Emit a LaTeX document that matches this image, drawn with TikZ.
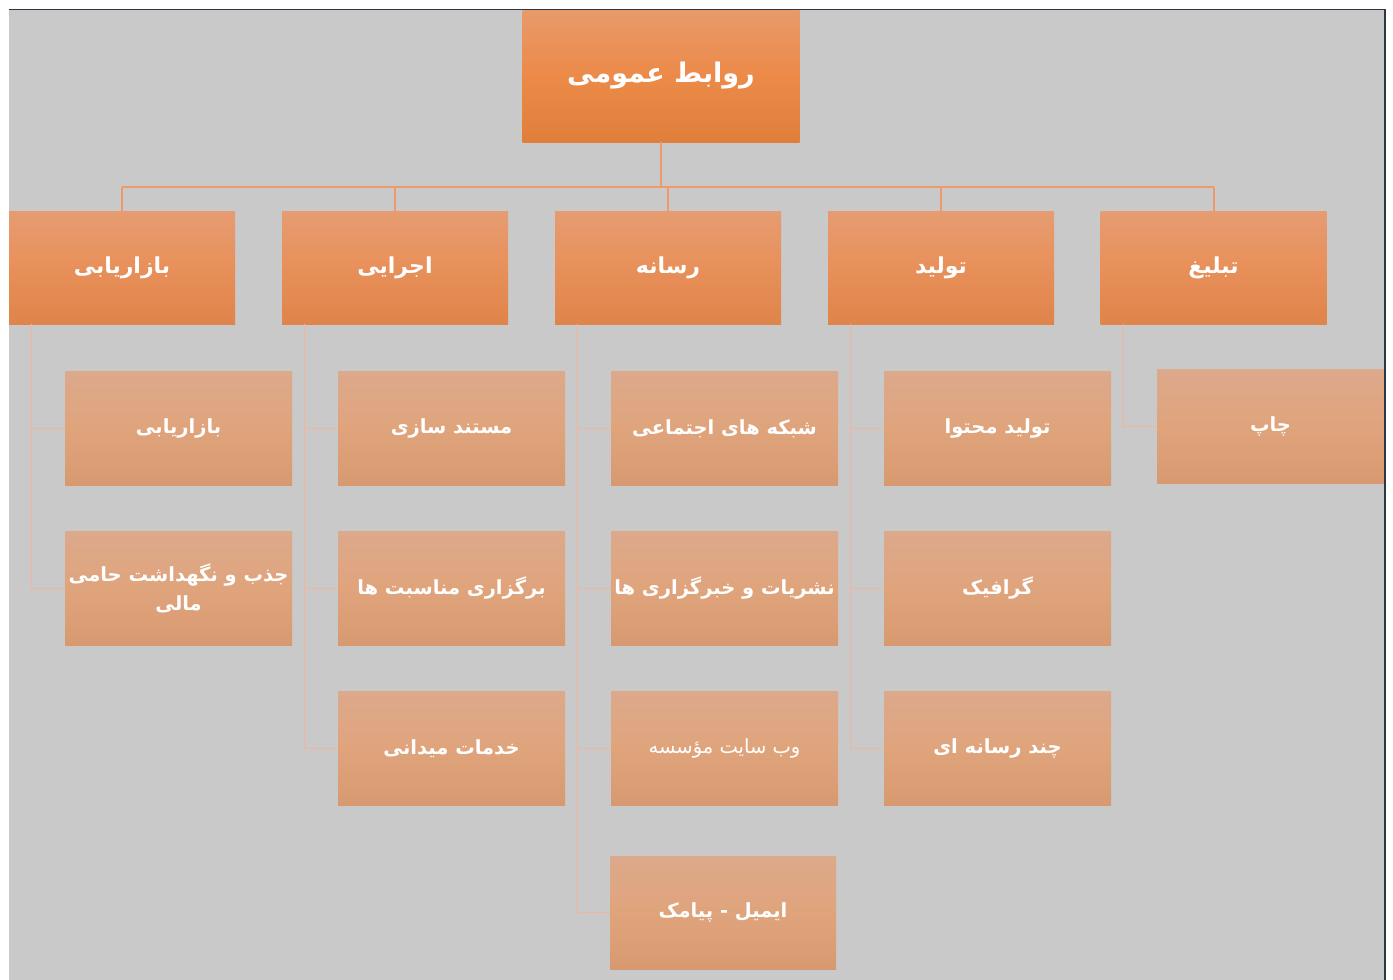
\documentclass[tikz,border=0pt]{standalone}
\usepackage{fontspec}
\newfontfamily\arabicfont[Script=Arabic]{DejaVu Sans}
\TeXXeTstate=1
\definecolor{bggray}{HTML}{C9C9C9}
\definecolor{frame}{HTML}{2E3646}
\definecolor{busline}{HTML}{EE9A6A}
\definecolor{subline}{HTML}{F2B49A}
\definecolor{rootT}{HTML}{E89A6C}
\definecolor{rootB}{HTML}{E07E3C}
\definecolor{rootM}{HTML}{EC8A48}
\definecolor{oneT}{HTML}{E69C72}
\definecolor{oneB}{HTML}{DF844A}
\definecolor{oneM}{HTML}{E8905A}
\definecolor{kidT}{HTML}{DCA98B}
\definecolor{kidB}{HTML}{D79970}
\definecolor{kidM}{HTML}{E0A47C}
\tikzset{
  rootbox/.style={rectangle, minimum width=277pt, minimum height=132pt, inner sep=0pt,
    top color=rootT, bottom color=rootB, middle color=rootM,
    text=white, font=\arabicfont\bfseries\fontsize{27}{32}\selectfont},
  lonebox/.style={rectangle, minimum width=226pt, minimum height=113pt, inner sep=0pt,
    top color=oneT, bottom color=oneB, middle color=oneM,
    text=white, font=\arabicfont\bfseries\fontsize{22}{26}\selectfont},
  kidbox/.style={rectangle, minimum width=227pt, minimum height=114pt, inner sep=0pt,
    top color=kidT, bottom color=kidB, middle color=kidM,
    text=white, align=center, font=\arabicfont\bfseries\fontsize{19.5}{24}\selectfont},
  bus/.style={draw=busline, line width=2pt},
  sub/.style={draw=subline, line width=1pt},
}
\begin{document}
\begin{tikzpicture}[x=1pt,y=-1pt]
\useasboundingbox (0,0) rectangle (1393,980);
\fill[white] (0,0) rectangle (1393,980);
\fill[bggray] (9,9) rectangle (1385,980);
\coordinate (busy) at (0,187);
% root
\node[rootbox] (root) at (661,76) {\beginR روابط عمومی\endR};
% level 1
\node[lonebox] (ma) at (122,267.5) {\beginR بازاریابی\endR};
\node[lonebox] (ej) at (395,267.5) {\beginR اجرایی\endR};
\node[lonebox] (ra) at (668,267.5) {\beginR رسانه\endR};
\node[lonebox] (to) at (941,267.5) {\beginR تولید\endR};
\node[lonebox] (ta) at (1213.5,267.5) {\beginR تبلیغ\endR};
% bus connectors
\draw[bus] (root.south) -- (root.south |- busy);
\draw[bus] (ma.north |- busy) -- ([xshift=0.5pt]ta.north |- busy);
\foreach \n/\s in {ma/0,ej/0,ra/0,to/0,ta/0.5} \draw[bus] ([xshift=\s pt]\n.north) -- ([xshift=\s pt]\n.north |- busy);
% children
\node[kidbox] (ma1) at (178.5,428.5) {\beginR بازاریابی\endR};
\node[kidbox] (ma2) at (178.5,588.5) {\beginR جذب و نگهداشت حامی\endR\\[5pt]\beginR مالی\endR};
\node[kidbox] (ej1) at (451.5,428.5) {\beginR مستند سازی\endR};
\node[kidbox] (ej2) at (451.5,588.5) {\beginR برگزاری مناسبت ها\endR};
\node[kidbox] (ej3) at (451.5,748.5) {\beginR خدمات میدانی\endR};
\node[kidbox] (ra1) at (724.5,428.5) {\beginR شبکه های اجتماعی\endR};
\node[kidbox] (ra2) at (724.5,588.5) {\beginR نشریات و خبرگزاری ها\endR};
\node[kidbox, font=\arabicfont\fontsize{19.5}{24}\selectfont] (ra3) at (724.5,748.5) {\beginR وب سایت مؤسسه\endR};
\node[kidbox, minimum width=226pt, minimum height=113pt] (ra4) at (723,912.5) {\beginR ایمیل - پیامک\endR};
\node[kidbox] (to1) at (997.5,428.5) {\beginR تولید محتوا\endR};
\node[kidbox] (to2) at (997.5,588.5) {\beginR گرافیک\endR};
\node[kidbox] (to3) at (997.5,748.5) {\beginR چند رسانه ای\endR};
\node[kidbox] (ta1) at (1270.5,426.5) {\beginR چاپ\endR};
% child connectors
\foreach \p/\c/\s in {ma/ma1/22.5,ma/ma2/22.5,ej/ej1/22.5,ej/ej2/22.5,ej/ej3/22.5,ra/ra1/22.5,ra/ra2/22.5,ra/ra3/22.5,ra/ra4/22.5,to/to1/22.5,to/to2/22.5,to/to3/22.5,ta/ta1/23}
  \draw[sub] ([xshift=\s pt]\p.south west) |- (\c.west);
% frame lines
\fill[white] (1386,0) rectangle (1393,980);
\draw[frame, line width=1.2pt] (9,9.5) -- (1384.5,9.5);
\draw[frame, line width=2pt] (1385,9) -- (1385,980);
\end{tikzpicture}
\end{document}
